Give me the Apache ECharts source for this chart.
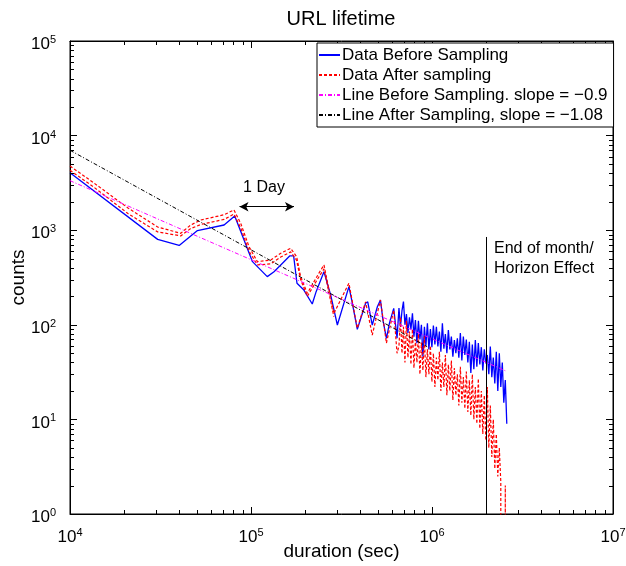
<!DOCTYPE html>
<html><head><meta charset="utf-8">
<script src="https://cdn.jsdelivr.net/npm/echarts@6/dist/echarts.min.js"></script>
<style>html,body{margin:0;padding:0;background:#fff}#c{width:626px;height:566px}</style>
</head><body><div id="c"></div>
<script>
// ---- data ----
const titleText = 'URL lifetime';
const xName = 'duration (sec)';
const yName = 'counts';
const seriesNames = ['Data Before Sampling', 'Data After sampling', 'Line Before Sampling. slope = \u22120.9', 'Line After Sampling, slope = \u22121.08'];

const beforeHeadX = [10000, 30500, 40100, 50600, 71000, 81300, 101900, 123000, 134000, 146000, 163500, 172000, 179500, 196000, 218000, 229000, 253000, 275500, 300000, 347500, 360000, 386700, 429700, 441500, 467700, 499000, 519000, 536000, 560000, 582000, 614500, 641000];
const beforeHeadY = [4050, 800, 690, 990, 1135, 1413, 465, 323, 364, 429, 534, 535, 275, 233, 166, 224, 364, 207, 99.5, 253, 183, 89.6, 169, 175, 99.5, 155, 183, 112, 72, 104, 149, 72];

const tailX = [656900, 669600, 682400, 695500, 708800, 722500, 736400, 750500, 765000, 779700,
  794700, 809900, 825500, 841400, 857500, 874000, 890800, 908000, 925300, 943200,
  961300, 979900, 998600, 1017900, 1037500, 1057500, 1077700, 1098500, 1119600, 1141200,
  1163000, 1185400, 1208200, 1231500, 1255000, 1279400, 1304000, 1329100, 1354500, 1380600,
  1407200, 1434400, 1461800, 1490000, 1518700, 1547800, 1577700, 1608100, 1639100, 1670500,
  1702700, 1735500, 1769000, 1802800, 1837500, 1873000, 1908800, 1945500, 1983000, 2021300,
  2060000, 2099700, 2140200, 2181500, 2223200, 2266000, 2309800, 2354300, 2399100, 2445400,
  2492600, 2540700, 2589200];
const beforeTailY = [150, 95, 140, 176, 100, 130, 82, 120, 90, 132,
  75, 112, 64, 110, 70, 100, 46, 95, 60, 104,
  55, 90, 58, 98, 62, 95, 59, 85, 52, 104,
  56, 80, 50, 88, 55, 75, 46, 69, 50, 72,
  45, 82, 42, 75, 48, 70, 40, 66, 31, 62,
  34, 69, 36, 64, 38, 58, 33, 55, 39, 48,
  30, 59, 28, 45, 24, 52, 20, 50, 22, 40,
  15, 26, 9];

const afterHeadX = [10000, 13560, 20900, 30500, 40900, 46400, 52800, 71000, 80500, 87700, 97500, 108400, 128500, 146000, 165600, 178700, 188000, 204700, 237000, 253000, 287000, 347500, 386700, 429700, 467700, 519000, 560000, 614500, 641000];
const afterHeadY = [4770, 3155, 1718, 1081, 927, 1135, 1282, 1456, 1637, 1183, 670, 465, 484, 570, 644, 525, 322, 215, 350, 429, 132, 275, 92, 175, 78, 183, 64, 143, 50];
const afterTailY = [60, 120, 50, 95, 40, 110, 45, 85, 38, 90,
  35, 70, 40, 80, 30, 65, 33, 75, 28, 55,
  30, 60, 25, 50, 22, 45, 26, 52, 20, 40,
  22, 48, 18, 38, 20, 42, 16, 35, 18, 30,
  14, 36, 15, 28, 13, 32, 12, 26, 11, 30,
  10, 22, 9, 27, 8, 20, 7, 18, 6, 22,
  5, 14, 4, 10, 3, 7, 2.5, 5, 2.2];
const afterEndX = [2400000, 2540000, 2540700, 2541500];
const afterEndY = [0.5, 0.5, 2.0, 0.5];

const afterLowX = [10000, 13560, 20900, 30500, 40900, 46400, 52800, 71000, 80500, 87700, 97500, 108400, 128500, 146000, 165600, 178700, 188000, 204700, 237000, 253000, 287000];
const afterLowY = [4300, 2850, 1500, 960, 870, 1040, 1150, 1300, 1480, 1060, 600, 430, 440, 520, 590, 480, 300, 200, 320, 390, 122];

const fitBeforeX = [10000, 2540000];
const fitBeforeY = [3340, 32.7];
const fitAfterX = [10000, 940000];
const fitAfterY = [7000, 58.7];

const xMin = 1e4, xMax = 1e7, yMin = 1, yMax = 1e5;
const endOfMonthX = 2e6, endOfMonthTop = 848;
const oneDayX = 86400, twoDaysX = 172800, arrowY = 1770;
const annotEnd = ['End of month/', 'Horizon Effect'];
const annotDay = '1 Day';

// ---- build ----
const F = "'Liberation Sans', Arial, Helvetica, sans-serif";
const zip = (xs, ys) => xs.map((x, i) => [x, ys[i]]);
const beforeData = zip(beforeHeadX.concat(tailX), beforeHeadY.concat(beforeTailY));
const afterData = zip(afterHeadX.concat(tailX.slice(0, afterTailY.length), afterEndX), afterHeadY.concat(afterTailY, afterEndY));
const afterLowData = zip(afterLowX, afterLowY);

const minorX = []; for (let d = 4; d < 7; d++) for (let m = 2; m <= 9; m++) minorX.push([m * Math.pow(10, d), 1]);
const minorY = []; for (let d = 0; d < 5; d++) for (let m = 2; m <= 9; m++) minorY.push([1e4, m * Math.pow(10, d)]);

const sup = v => '{b|10}{e|' + Math.round(Math.log10(v)) + '}';
const rich = { b: { fontSize: 17, fontFamily: F, color: '#000' }, e: { fontSize: 11, fontFamily: F, color: '#000', verticalAlign: 'top', padding: [0, 0, 9, 0] } };
const axLine = { show: true, lineStyle: { color: '#000', width: 1 } };
const axTick = { show: true, inside: true, length: 7, lineStyle: { color: '#000', width: 1 } };

const line = (name, data, color, width, type, extra) => Object.assign({
  name, type: 'line', data, showSymbol: false, symbol: 'none', clip: true, animation: false,
  lineStyle: { color, width, type }, itemStyle: { color }, z: 3
}, extra || {});

const chart = echarts.init(document.getElementById('c'), null, { renderer: 'canvas' });
chart.setOption({
  animation: false,
  backgroundColor: '#fff',
  grid: { left: 70, right: 13, top: 41, bottom: 52, show: true, borderColor: '#000', borderWidth: 1, outerBoundsMode: 'none', containLabel: false },
  xAxis: [
    { type: 'log', logBase: 10, min: xMin, max: xMax, position: 'bottom', axisLine: axLine, axisTick: axTick, splitLine: { show: false },
      axisLabel: { formatter: sup, rich, margin: 13, showMinLabel: true, showMaxLabel: true, hideOverlap: false },
      name: xName, nameLocation: 'middle', nameGap: 28, nameMoveOverlap: false, nameTextStyle: { fontSize: 19, fontFamily: F, color: '#000' } },
    { type: 'log', logBase: 10, min: xMin, max: xMax, position: 'top', axisLine: axLine, axisTick: axTick, splitLine: { show: false }, axisLabel: { show: false } }
  ],
  yAxis: [
    { type: 'log', logBase: 10, min: yMin, max: yMax, position: 'left', axisLine: axLine, axisTick: axTick, splitLine: { show: false },
      axisLabel: { formatter: sup, rich, margin: 14, padding: [7, 0, 0, 0], showMinLabel: true, showMaxLabel: true },
      name: yName, nameLocation: 'middle', nameGap: 42, nameMoveOverlap: false, nameTextStyle: { fontSize: 19, fontFamily: F, color: '#000' } },
    { type: 'log', logBase: 10, min: yMin, max: yMax, position: 'right', axisLine: axLine, axisTick: axTick, splitLine: { show: false }, axisLabel: { show: false } }
  ],
  legend: {
    data: seriesNames, orient: 'vertical', left: 317, top: 43, itemWidth: 21, itemHeight: 10, itemGap: 0,
    padding: [2, 6, 2, 1], backgroundColor: '#fff', borderColor: '#000', borderWidth: 1, selectedMode: false,
    itemStyle: { opacity: 0 },
    textStyle: { fontFamily: F, fontSize: 17, color: '#000', lineHeight: 20, padding: [0, 0, 0, -3] }, z: 10
  },
  graphic: [
    { type: 'text', x: 341, y: 19, style: { text: titleText, fontSize: 20, fontFamily: F, fill: '#000', align: 'center', verticalAlign: 'middle' } },
    { type: 'text', x: 494, y: 249, z: 5, style: { text: annotEnd[0], fontSize: 16, fontFamily: F, fill: '#000', align: 'left', verticalAlign: 'middle' } },
    { type: 'text', x: 494, y: 269, z: 5, style: { text: annotEnd[1], fontSize: 16, fontFamily: F, fill: '#000', align: 'left', verticalAlign: 'middle' } },
    { type: 'text', x: 264, y: 188, z: 5, style: { text: annotDay, fontSize: 16, fontFamily: F, fill: '#000', align: 'center', verticalAlign: 'middle' } }
  ],
  series: [
    line(seriesNames[0], beforeData, '#0000ff', 1.3, 'solid'),
    line(seriesNames[1], afterData, '#ff0000', 1.2, [3, 2]),
    line(seriesNames[1], afterLowData, '#ff0000', 1.2, [3, 2]),
    line(seriesNames[2], zip(fitBeforeX, fitBeforeY), '#ff00ff', 1, [4, 2, 1, 2]),
    line(seriesNames[3], zip(fitAfterX, fitAfterY), '#000000', 1, [4, 2, 1, 2]),
    { name: 'annot', type: 'line', data: [], animation: false, z: 4,
      markLine: { silent: true, animation: false, label: { show: false }, symbol: ['none', 'none'],
        lineStyle: { color: '#000', width: 1, type: 'solid' },
        data: [
          [{ coord: [endOfMonthX, endOfMonthTop] }, { coord: [endOfMonthX, yMin] }],
          [{ coord: [oneDayX, arrowY], symbol: 'arrow', symbolSize: [7, 9] }, { coord: [twoDaysX, arrowY], symbol: 'arrow', symbolSize: [7, 9] }]
        ] } },
    { name: 'minorX', type: 'custom', data: minorX, silent: true, animation: false, clip: false, z: 5,
      renderItem: (params, api) => {
        const cs = params.coordSys; const x = Math.round(api.coord([api.value(0), 1])[0]) + 0.5;
        const b = cs.y + cs.height, t = cs.y;
        return { type: 'group', children: [
          { type: 'line', shape: { x1: x, y1: b, x2: x, y2: b - 4 }, style: { stroke: '#000', lineWidth: 1 } },
          { type: 'line', shape: { x1: x, y1: t, x2: x, y2: t + 4 }, style: { stroke: '#000', lineWidth: 1 } }
        ] };
      } },
    { name: 'minorY', type: 'custom', data: minorY, silent: true, animation: false, clip: false, z: 5,
      renderItem: (params, api) => {
        const cs = params.coordSys; const y = Math.round(api.coord([1e4, api.value(1)])[1]) + 0.5;
        const l = cs.x, r = cs.x + cs.width;
        return { type: 'group', children: [
          { type: 'line', shape: { x1: l, y1: y, x2: l + 4, y2: y }, style: { stroke: '#000', lineWidth: 1 } },
          { type: 'line', shape: { x1: r, y1: y, x2: r - 4, y2: y }, style: { stroke: '#000', lineWidth: 1 } }
        ] };
      } }
  ]
});
</script></body></html>
